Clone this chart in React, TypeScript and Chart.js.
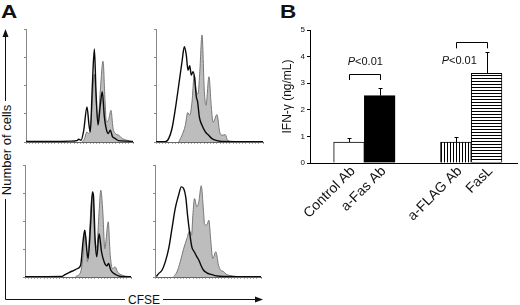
import React, { useEffect, useRef } from 'react';
import { Chart, registerables } from 'chart.js';

Chart.register(...registerables);

const FONT = '"Liberation Sans", Arial, Helvetica, sans-serif';

// ---------- Panel A: CFSE histograms, points are [CFSE channel 0-100, cells (axis units 0-4)] ----------
const topLeftShaded: [number, number][] = [
  [52.3, 0], [54.5, 0.1], [57.0, 0.36], [58.5, 0.3], [60.1, 0.45], [62.0, 1.5], [63.9, 2.4], [65.4, 1.5],
  [67.3, 0.7], [69.4, 1.8], [72.0, 2.86], [73.8, 1.5], [75.1, 0.7], [77.3, 0.8], [79.4, 1.12], [81.3, 0.5],
  [83.5, 0.3], [86.6, 0.24], [90.0, 0.12], [94.4, 0.06], [99.0, 0.01],
];
const topLeftLine: [number, number][] = [
  [0, 0.02], [25.9, 0.02], [41.4, 0.03], [47.7, 0.05], [49.2, 0.1], [51.4, 0.06], [53.9, 0.4], [57.0, 1.24],
  [58.9, 0.6], [60.1, 0.36], [62.0, 2.0], [63.9, 3.29], [65.4, 1.8], [67.3, 0.6], [69.4, 1.3], [71.3, 1.78],
  [73.2, 0.9], [75.1, 0.45], [76.9, 0.3], [78.8, 0.42], [80.7, 0.2], [83.5, 0.12], [86.6, 0.05], [94.4, 0.03],
  [100, 0.02],
];
const topRightShaded: [number, number][] = [
  [21.2, 0], [24.3, 0.24], [27.4, 0.59], [29.6, 1.04], [31.5, 0.95], [33.6, 1.4], [35.8, 2.37], [37.7, 1.78],
  [39.3, 1.7], [40.8, 2.4], [43.0, 3.79], [45.2, 1.78], [46.7, 1.3], [49.5, 2.31], [51.7, 1.24], [53.3, 0.7],
  [57.0, 0.97], [59.5, 0.36], [61.7, 0.24], [64.8, 0.26], [67.0, 0.05], [74.1, 0.01],
];
const topRightLine: [number, number][] = [
  [0, 0.01], [8.7, 0.01], [11.8, 0.12], [14.9, 0.47], [18.1, 1.18], [21.2, 2.0], [24.3, 2.84], [26.5, 3.37],
  [28.3, 3.08], [29.9, 2.54], [31.5, 2.7], [33.0, 2.37], [34.6, 2.49], [36.1, 2.25], [37.7, 1.6], [38.9, 1.42],
  [40.5, 0.89], [43.0, 0.59], [46.1, 0.36], [49.2, 0.24], [52.3, 0.12], [57.0, 0.05], [61.7, 0.02], [100, 0.01],
];
const bottomLeftShaded: [number, number][] = [
  [47.8, 0.02], [52.5, 0.18], [55.1, 0.9], [56.6, 1.67], [58.9, 0.54], [60.4, 1.25], [62.7, 2.75], [63.9, 2.93],
  [65.8, 1.37], [67.7, 1.07], [69.9, 2.33], [71.5, 3.1], [73.4, 2.33], [75.3, 1.01], [76.6, 1.37], [78.5, 1.97],
  [80.4, 0.78], [82.6, 0.3], [85.1, 0.36], [87.3, 0.18], [92.1, 0.06], [98.4, 0.01],
];
const bottomLeftLine: [number, number][] = [
  [0, 0.01], [34.8, 0.02], [36.7, 0.06], [41.5, 0.16], [46.2, 0.24], [49.4, 0.3], [52.5, 0.42], [54.7, 1.25],
  [56.3, 1.67], [59.5, 0.66], [62.0, 1.97], [63.6, 3.04], [64.6, 2.9], [66.1, 1.37], [67.7, 0.72], [69.9, 1.55],
  [72.2, 0.9], [74.7, 0.54], [77.2, 0.4], [78.8, 0.48], [81.0, 0.24], [85.8, 0.08], [90.5, 0.02], [100, 0.01],
];
const bottomRightShaded: [number, number][] = [
  [17.6, 0.02], [20.7, 0.18], [23.8, 0.54], [27.0, 1.01], [30.1, 1.37], [32.6, 1.64], [34.5, 1.49], [35.7, 2.2],
  [37.3, 2.8], [39.5, 2.5], [41.4, 2.7], [43.6, 3.26], [45.8, 2.33], [46.7, 1.9], [48.9, 1.85], [50.8, 2.03],
  [52.7, 1.25], [54.5, 0.66], [57.4, 0.9], [59.9, 0.42], [62.1, 0.24], [64.6, 0.2], [67.1, 0.1], [70.8, 0.05],
  [77.1, 0.02],
];
const bottomRightLine: [number, number][] = [
  [1.3, 0.02], [3.4, 0.12], [6.6, 0.24], [9.7, 0.54], [12.9, 1.01], [16.0, 1.73], [19.1, 2.45], [22.3, 2.93],
  [24.8, 3.22], [27.0, 3.16], [29.2, 2.8], [30.7, 2.21], [32.6, 1.61], [34.8, 1.07], [37.0, 0.9], [39.5, 0.72],
  [41.4, 0.6], [43.3, 0.42], [45.8, 0.24], [48.9, 0.15], [52.0, 0.1], [56.7, 0.05], [64.6, 0.02], [100, 0.01],
];

// ---------- Panel B: IFN-gamma bar chart ----------
const barLabels = ['Control Ab', 'a-Fas Ab', 'a-FLAG Ab', 'FasL'];
const barSlots = [1.27, 2.27, 4.75, 5.75];
const ifnValues = [0.79, 2.53, 0.79, 3.37];
const ifnErrors = [0.15, 0.3, 0.17, 0.79];
const comparisons = [
  { from: 0, to: 1, bar: 3.33, leg: 3.12, text: 'P<0.01', textX: 1.8, textY: 3.79 },
  { from: 2, to: 3, bar: 4.54, leg: 4.31, text: 'P<0.01', textX: 4.86, textY: 3.85 },
];

type Area = { left: number; top: number; w: number; h: number };

function Histogram({ area, shaded, line }: { area: Area; shaded: [number, number][]; line: [number, number][] }) {
  const ref = useRef<HTMLCanvasElement>(null);
  useEffect(() => {
    const chart = new Chart(ref.current!, {
      type: 'line',
      data: {
        datasets: [
          {
            data: line.map(([x, y]) => ({ x, y })),
            borderColor: '#0a0a0a',
            borderWidth: 1.4,
            pointRadius: 0,
            fill: false,
            cubicInterpolationMode: 'monotone',
            order: 0,
          },
          {
            data: shaded.map(([x, y]) => ({ x, y })),
            borderColor: '#777',
            borderWidth: 1,
            backgroundColor: '#bdbdbd',
            fill: 'origin',
            pointRadius: 0,
            cubicInterpolationMode: 'monotone',
            order: 1,
          },
        ],
      },
      options: {
        responsive: false,
        animation: false,
        events: [],
        layout: { padding: { left: 5, top: 5, right: 5, bottom: 2 } },
        plugins: { legend: { display: false }, tooltip: { enabled: false } },
        scales: {
          x: {
            type: 'linear',
            min: 0,
            max: 100,
            ticks: { display: false, stepSize: 3 },
            grid: { drawOnChartArea: false, drawTicks: true, tickLength: 2, color: '#aaa' },
            border: { color: '#666', width: 1 },
            afterFit: (s: any) => { s.height = 3; },
          },
          y: {
            type: 'linear',
            min: 0,
            max: 4,
            ticks: { display: false, stepSize: 1 },
            grid: { drawOnChartArea: false, drawTicks: true, tickLength: 2, color: '#888' },
            border: { color: '#888', width: 1 },
            afterFit: (s: any) => { s.width = 5; },
          },
        },
      } as any,
    });
    return () => chart.destroy();
  }, []);
  const W = area.w + 15;
  const H = area.h + 10;
  return (
    <canvas
      ref={ref}
      width={W}
      height={H}
      style={{ position: 'absolute', left: area.left - 10, top: area.top - 5, width: W, height: H }}
    />
  );
}

const annotatePlugin = {
  id: 'annotate',
  afterDatasetsDraw(chart: any) {
    const ctx = chart.ctx as CanvasRenderingContext2D;
    const meta = chart.getDatasetMeta(0);
    const ys = chart.scales.y;
    const xs = chart.scales.x;
    ctx.save();
    ctx.strokeStyle = '#000';
    ctx.lineWidth = 1;
    meta.data.forEach((el: any, i: number) => {
      const x = Math.round(el.x) + 0.5;
      const top = ys.getPixelForValue(ifnValues[i]);
      const end = Math.round(ys.getPixelForValue(ifnValues[i] + ifnErrors[i])) + 0.5;
      ctx.beginPath();
      ctx.moveTo(x, top);
      ctx.lineTo(x, end);
      ctx.moveTo(x - 2, end);
      ctx.lineTo(x + 2, end);
      ctx.stroke();
    });
    comparisons.forEach((c) => {
      const x1 = Math.round(meta.data[c.from].x) + 0.5;
      const x2 = Math.round(meta.data[c.to].x) + 0.5;
      const yb = Math.round(ys.getPixelForValue(c.bar)) + 0.5;
      const yl = ys.getPixelForValue(c.leg);
      ctx.beginPath();
      ctx.moveTo(x1, yl);
      ctx.lineTo(x1, yb);
      ctx.lineTo(x2, yb);
      ctx.lineTo(x2, yl);
      ctx.stroke();
      const first = c.text.slice(0, 1);
      const rest = c.text.slice(1);
      const italic = `italic 11px ${FONT}`;
      const normal = `11px ${FONT}`;
      ctx.font = italic;
      const wP = ctx.measureText(first).width;
      ctx.font = normal;
      const wR = ctx.measureText(rest).width;
      const cx = xs.getPixelForValue(c.textX);
      const cy = ys.getPixelForValue(c.textY);
      const sx = cx - (wP + wR) / 2;
      ctx.fillStyle = '#111';
      ctx.textBaseline = 'middle';
      ctx.textAlign = 'left';
      ctx.font = italic;
      ctx.fillText(first, sx, cy);
      ctx.font = normal;
      ctx.fillText(rest, sx + wP, cy);
    });
    ctx.restore();
  },
};

function BarPanel() {
  const ref = useRef<HTMLCanvasElement>(null);
  useEffect(() => {
    const canvas = ref.current!;
    const makeHatch = (vertical: boolean) => {
      const c = document.createElement('canvas');
      c.width = 3;
      c.height = 3;
      const g = c.getContext('2d')!;
      g.fillStyle = '#fff';
      g.fillRect(0, 0, 3, 3);
      g.fillStyle = '#000';
      if (vertical) g.fillRect(0, 0, 1, 3);
      else g.fillRect(0, 0, 3, 1);
      return canvas.getContext('2d')!.createPattern(c, 'repeat')!;
    };
    const fills = ['#ffffff', '#000000', makeHatch(true), makeHatch(false)];
    const chart = new Chart(canvas, {
      type: 'bar',
      data: {
        datasets: [
          {
            data: barSlots.map((x, i) => ({ x, y: ifnValues[i] })),
            backgroundColor: fills as any,
            borderColor: '#000',
            borderWidth: 1,
            borderSkipped: 'bottom',
            barPercentage: 1,
            categoryPercentage: 1,
          },
        ],
      },
      options: {
        responsive: false,
        animation: false,
        events: [],
        layout: { padding: { left: 10, top: 30, right: 3, bottom: 42 } },
        plugins: { legend: { display: false }, tooltip: { enabled: false } },
        scales: {
          x: {
            type: 'linear',
            offset: false,
            min: 0,
            max: 6.74,
            afterBuildTicks: (s: any) => {
              s.ticks = barSlots.map((v) => ({ value: v }));
            },
            ticks: {
              autoSkip: false,
              minRotation: 45,
              maxRotation: 45,
              padding: 0,
              labelOffset: 4,
              color: '#111',
              font: { size: 14, family: FONT },
              callback: (_v: any, i: number) => barLabels[i],
            },
            grid: { display: false, drawTicks: false, offset: false },
            border: { color: '#000', width: 1 },
            afterFit: (s: any) => { s.height = 100; },
          },
          y: {
            type: 'linear',
            min: 0,
            max: 5,
            ticks: { stepSize: 1, padding: 2, color: '#111', font: { size: 8, family: FONT } },
            grid: { drawOnChartArea: false, drawTicks: true, tickLength: 3, color: '#000' },
            border: { color: '#000', width: 1 },
            title: {
              display: true,
              text: 'IFN-γ (ng/mL)',
              color: '#111',
              font: { size: 12, family: FONT },
              padding: { top: 0, bottom: 0 },
            },
            afterFit: (s: any) => { s.width = 30; },
          },
        },
      } as any,
      plugins: [annotatePlugin],
    });
    return () => chart.destroy();
  }, []);
  return (
    <canvas ref={ref} width={250} height={305} style={{ position: 'absolute', left: 270, top: 0, width: 250, height: 305 }} />
  );
}

export default function App() {
  const textStyle = { fontFamily: FONT, fill: '#111' } as any;
  return (
    <div style={{ position: 'absolute', left: 0, top: 0, width: 520, height: 305, background: '#fff', overflow: 'hidden' }}>
      <svg width={520} height={305} style={{ position: 'absolute', left: 0, top: 0 }}>
        <text transform="translate(1,18) scale(1.25,1)" fontSize={18} fontWeight="bold" style={textStyle}>A</text>
        <text transform="translate(280,18) scale(1.25,1)" fontSize={18} fontWeight="bold" style={textStyle}>B</text>
        <line x1={5.5} y1={299.5} x2={5.5} y2={199} stroke="#111" strokeWidth={1} />
        <line x1={5.5} y1={101} x2={5.5} y2={35} stroke="#111" strokeWidth={1} />
        <polygon points="5.5,29 2.5,37 8.5,37" fill="#111" />
        <text transform="translate(11,150) rotate(-90)" textAnchor="middle" fontSize={13} style={textStyle}>Number of cells</text>
        <line x1={5.5} y1={299.5} x2={125} y2={299.5} stroke="#111" strokeWidth={1} />
        <line x1={163} y1={299.5} x2={256} y2={299.5} stroke="#111" strokeWidth={1} />
        <polygon points="263,299.5 255,296.5 255,302.5" fill="#111" />
        <text x={144} y={304} textAnchor="middle" fontSize={12} style={textStyle}>CFSE</text>
      </svg>
      <Histogram area={{ left: 26, top: 29, w: 107, h: 113 }} shaded={topLeftShaded} line={topLeftLine} />
      <Histogram area={{ left: 156, top: 29, w: 107, h: 113 }} shaded={topRightShaded} line={topRightLine} />
      <Histogram area={{ left: 25, top: 165, w: 106, h: 112 }} shaded={bottomLeftShaded} line={bottomLeftLine} />
      <Histogram area={{ left: 155, top: 165, w: 106, h: 112 }} shaded={bottomRightShaded} line={bottomRightLine} />
      <BarPanel />
    </div>
  );
}
